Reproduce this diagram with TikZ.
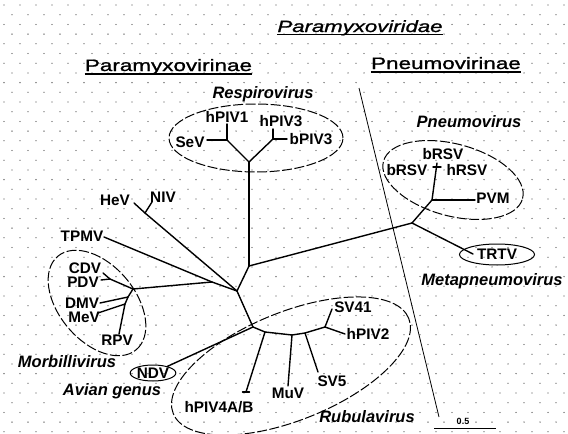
\documentclass[tikz,border=0pt]{standalone}
\usepackage{fontspec}
\usetikzlibrary{shapes.geometric}
\setmainfont{Liberation Sans}
\newfontfamily\widefont[FakeStretch=1.36,FakeBold=1.2]{Liberation Sans}
\begin{document}
\begin{tikzpicture}[x=1pt,y=-1pt,
  br/.style={line width=1.4pt,line cap=round,line join=round},
  grp/.style={line width=1pt,dash pattern=on 10pt off 2.5pt},
  tx/.style={font=\bfseries\fontsize{15.3}{15.3}\selectfont,inner sep=0pt},
  gen/.style={font=\bfseries\itshape\fontsize{16.5}{16.5}\selectfont,inner sep=0pt,anchor=base},
  sub/.style={font=\widefont\fontsize{16.5}{16.5}\selectfont,inner sep=0pt,anchor=base},
  ovalbox/.style={draw,line width=1pt,ellipse,inner sep=0pt},
  uline/.style={line width=1.1pt},
  dotc/.style={fill=black!70}]
\useasboundingbox (0,0) rectangle (568,434);
\fill[white] (0,0) rectangle (568,434);
% scanned dot texture
\foreach \r in {0,...,44}{
  \pgfmathsetmacro{\yy}{5+9.7*\r}
  \pgfmathsetmacro{\xo}{4+8*mod(\r,2)}
  \foreach \c in {0,...,35}{
    \fill[dotc] (\xo+16*\c,\yy) circle[radius=0.65pt];
  }
}
% ---------- titles ----------
\node[sub,font=\widefont\itshape\fontsize{16.3}{16.3}\selectfont] (fam) at (360,32) {Paramyxoviridae};
\draw[uline] ([yshift=-2.5pt]fam.base west) -- ([yshift=-2.5pt]fam.base east);
\node[sub] (sub1) at (168.5,71) {Paramyxovirinae};
\draw[uline] ([yshift=-3pt]sub1.base west) -- ([yshift=-3pt]sub1.base east);
\node[sub] (sub2) at (446,69) {Pneumovirinae};
\draw[uline] ([yshift=-3pt]sub2.base west) -- ([yshift=-3pt]sub2.base east);
% dividing line
\coordinate (div1) at (359,88);
\coordinate (div2) at (439,417);
\draw[line width=0.8pt] (div1) -- (div2);
% ---------- genus labels ----------
\node[gen] (respiro) at (263,98) {Respirovirus};
\node[gen] (pneumo) at (469,127) {Pneumovirus};
\node[gen] (metap) at (492,285) {Metapneumovirus};
\node[gen] (morbi) at (67,367) {Morbillivirus};
\node[gen] (avian) at (112,395) {Avian genus};
\node[gen] (rubula) at (367,422) {Rubulavirus};
% ---------- group ellipses ----------
\draw[grp] (256,138) ellipse[x radius=87pt,y radius=34pt];
\draw[grp,rotate around={-15:(453,180)}] (453,180) ellipse[x radius=72pt,y radius=36pt];
\draw[grp,rotate around={-50:(97,303)}] (97,303) ellipse[x radius=61pt,y radius=38pt];
\draw[grp,rotate around={22:(291,366)}] (291,366) ellipse[x radius=127pt,y radius=54pt];
% ---------- taxa labels ----------
\node[tx] (sev) at (190,142) {SeV};
\node[tx] (hpiv1) at (227,117) {hPIV1};
\node[tx] (hpiv3) at (281,121) {hPIV3};
\node[tx] (bpiv3) at (311,139) {bPIV3};
\node[tx] (hev) at (115,200) {HeV};
\node[tx] (niv) at (163,197) {NIV};
\node[tx] (tpmv) at (82,236) {TPMV};
\node[tx] (cdv) at (85,268) {CDV};
\node[tx] (pdv) at (83,282.5) {PDV};
\node[tx] (dmv) at (82,303) {DMV};
\node[tx] (mev) at (84,317) {MeV};
\node[tx] (rpv) at (117,340) {RPV};
\node[tx,ovalbox,minimum width=41pt,minimum height=16pt] (ndv) at (153,373) {NDV};
\node[tx] (hpiv4) at (219,407) {hPIV4A/B};
\node[tx] (muv) at (288,393) {MuV};
\node[tx] (sv5) at (332,381) {SV5};
\node[tx] (sv41) at (353,307) {SV41};
\node[tx] (hpiv2) at (368,334) {hPIV2};
\node[tx] (brsv1) at (443,154) {bRSV};
\node[tx] (brsv2) at (407,170) {bRSV};
\node[tx] (hrsv) at (467,170) {hRSV};
\node[tx] (pvm) at (493,198) {PVM};
\node[tx,ovalbox,minimum width=75pt,minimum height=21pt] (trtv) at (497,254.5) {TRTV};
% ---------- tree coordinates ----------
\coordinate (A) at (249,266);
\coordinate (B) at (237,291);
\coordinate (C) at (212,282);
\coordinate (D) at (253,327);
\coordinate (R) at (249,162);
\coordinate (RL) at (227,140);
\coordinate (RR) at (273,139);
\coordinate (hpiv1t) at (227,124);
\coordinate (sevt) at (207,140);
\coordinate (hpiv3t) at (273,129);
\coordinate (bpiv3t) at (287,139);
\coordinate (HN) at (145,213);
\coordinate (hevt) at (134,203);
\coordinate (nivt) at (152,202);
\coordinate (tpmvt) at (104,237);
\coordinate (M) at (133,289);
\coordinate (CP) at (110,279);
\coordinate (cdvt) at (103,273);
\coordinate (pdvt) at (101,280);
\coordinate (m1) at (128,297);
\coordinate (dmvt) at (100,303);
\coordinate (m2) at (125,304);
\coordinate (mevt) at (98,313);
\coordinate (rpvt) at (119,334);
\coordinate (E) at (265,332);
\coordinate (F) at (292,335);
\coordinate (G) at (305,333);
\coordinate (H) at (325,327);
\coordinate (h4t) at (246,392);
\coordinate (h4a) at (242.5,392);
\coordinate (h4b) at (249.5,392);
\coordinate (muvt) at (288,386);
\coordinate (sv5t) at (318,372);
\coordinate (sv41t) at (332,309);
\coordinate (hpiv2t) at (345,334);
\coordinate (P) at (412,223);
\coordinate (Q) at (432,200);
\coordinate (pvmt) at (475,200);
\coordinate (rsvt) at (437,163);
\coordinate (rsva) at (433,167);
\coordinate (rsvb) at (441,167);
\coordinate (trtvt) at (473,254);
% ---------- branches ----------
\draw[br] (R) -- (A);
\draw[br] (R) -- (RL);
\draw[br] (R) -- (RR);
\draw[br] (RL) -- (hpiv1t);
\draw[br] (RL) -- (sevt);
\draw[br] (RR) -- (hpiv3t);
\draw[br] (RR) -- (bpiv3t);
\draw[br] (A) -- (P);
\draw[br] (A) -- (B);
\draw[br] (B) -- (HN);
\draw[br] (HN) -- (hevt);
\draw[br] (HN) -- (nivt);
\draw[br] (B) -- (C);
\draw[br] (C) -- (tpmvt);
\draw[br] (C) -- (M);
\draw[br] (M) -- (CP);
\draw[br] (CP) -- (cdvt);
\draw[br] (CP) -- (pdvt);
\draw[br] (M) -- (m1);
\draw[br] (m1) -- (dmvt);
\draw[br] (m1) -- (m2);
\draw[br] (m2) -- (mevt);
\draw[br] (m2) -- (rpvt);
\draw[br] (B) -- (D);
\draw[br] (D) -- (ndv);
\draw[br] (D) -- (E) -- (F) -- (G) -- (H);
\draw[br] (E) -- (h4t);
\draw[br] (h4a) -- (h4b);
\draw[br] (F) -- (muvt);
\draw[br] (G) -- (sv5t);
\draw[br] (H) -- (sv41t);
\draw[br] (H) -- (hpiv2t);
\draw[br] (P) -- (Q);
\draw[br] (Q) -- (pvmt);
\draw[br] (Q) -- (rsvt);
\draw[br] (rsva) -- (rsvb);
\draw[br] (P) -- (trtvt);
% ---------- scale bar ----------
\coordinate (sb1) at (434,428);
\coordinate (sb2) at (496,428);
\draw[line width=0.9pt] (sb1) -- (sb2);
\node[font=\bfseries\fontsize{9}{9}\selectfont,inner sep=0pt] (sblab) at (463,421) {0.5};
\end{tikzpicture}
\end{document}
